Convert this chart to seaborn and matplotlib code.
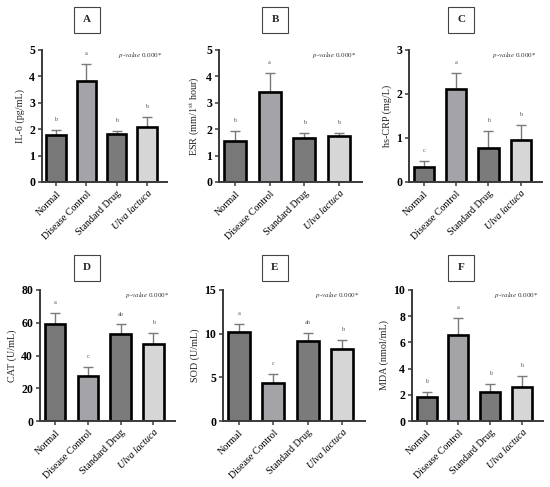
import matplotlib
matplotlib.use("Agg")
import matplotlib.pyplot as plt
import seaborn as sns
import pandas as pd
import numpy as np
from matplotlib.patches import Rectangle

categories = ["Normal", "Disease Control", "Standard Drug", "Ulva lactuca"]
colors = ["#787878", "#a3a3a9", "#7b7b7b", "#d6d6d6"]

il6_mean = [1.78, 3.82, 1.82, 2.07]
il6_err = [0.19, 0.66, 0.10, 0.38]
il6_letters = ["b", "a", "b", "b"]

esr_mean = [1.55, 3.42, 1.68, 1.75]
esr_err = [0.38, 0.70, 0.19, 0.12]
esr_letters = ["b", "a", "b", "b"]

crp_mean = [0.33, 2.12, 0.78, 0.95]
crp_err = [0.14, 0.36, 0.37, 0.35]
crp_letters = ["c", "a", "b", "b"]

cat_mean = [59.0, 27.5, 53.0, 47.0]
cat_err = [7.0, 5.5, 6.0, 7.0]
cat_letters = ["a", "c", "ab", "b"]

sod_mean = [10.2, 4.4, 9.2, 8.3]
sod_err = [0.9, 1.0, 0.85, 1.0]
sod_letters = ["a", "c", "ab", "b"]

mda_mean = [1.8, 6.6, 2.2, 2.6]
mda_err = [0.4, 1.3, 0.62, 0.85]
mda_letters = ["b", "a", "b", "b"]

panels = [
    ("A", "IL-6 (pg/mL)", il6_mean, il6_err, il6_letters, 5, 1),
    ("B", "ESR (mm/1$^{\\mathrm{st}}$ hour)", esr_mean, esr_err, esr_letters, 5, 1),
    ("C", "hs-CRP (mg/L)", crp_mean, crp_err, crp_letters, 3, 1),
    ("D", "CAT (U/mL)", cat_mean, cat_err, cat_letters, 80, 20),
    ("E", "SOD (U/mL)", sod_mean, sod_err, sod_letters, 15, 5),
    ("F", "MDA (nmol/mL)", mda_mean, mda_err, mda_letters, 10, 2),
]

W, H = 550, 487
# axes rectangles in pixels: (left, top, right, bottom)
rects = [
    (42, 50, 167, 182),
    (219, 50, 362, 182),
    (409, 50, 542, 182),
    (40, 290, 175, 421),
    (223, 290, 365, 421),
    (412, 290, 543, 421),
]
box_centers = [(87, 20), (275, 20), (461, 20), (87, 268), (275, 268), (461, 268)]

sns.set_theme(style="ticks")
plt.rcParams["font.family"] = ["Liberation Serif", "DejaVu Serif"]
plt.rcParams["mathtext.fontset"] = "stix"

fig = plt.figure(figsize=(W / 100, H / 100), dpi=100)
fig.patch.set_facecolor("white")

axis_col = "#3a3a3a"

for (label, ylab, means, errs, letters, ymax, ystep), (l, t, r, b), (bx, by) in zip(panels, rects, box_centers):
    ax = fig.add_axes([l / W, 1 - b / H, (r - l) / W, (b - t) / H])
    df = pd.DataFrame({"group": categories, "value": means})
    sns.barplot(data=df, x="group", y="value", hue="group", palette=colors,
                order=categories, hue_order=categories, legend=False,
                errorbar=None, width=0.63, edgecolor="black", linewidth=1.9,
                ax=ax, zorder=2)
    xs = np.arange(len(categories))
    ax.errorbar(xs, means, yerr=[np.zeros(len(errs)), errs], fmt="none",
                ecolor="#7a7a7a", elinewidth=1.0, capsize=3.5, capthick=1.0, zorder=1)
    for x, m, e, s in zip(xs, means, errs, letters):
        ax.text(x, m + e + ymax * 0.06, s, ha="center", va="bottom",
                fontsize=4.5, color="#555555")
    ax.set_xlim(-0.46, 3.66)
    ax.set_ylim(0, ymax)
    ticks = np.arange(0, ymax + ystep / 2, ystep)
    ax.set_yticks(ticks)
    ax.set_yticklabels([str(int(v)) for v in ticks], fontweight="bold", fontsize=8.5)
    ax.set_xticks(xs)
    ax.set_xticklabels(categories, rotation=45, ha="right", rotation_mode="anchor",
                       fontsize=7.2)
    ax.get_xticklabels()[3].set_style("italic")
    ax.set_xlabel("")
    ax.set_ylabel(ylab, fontsize=7.3, labelpad=3)
    sns.despine(ax=ax)
    for side in ["left", "bottom"]:
        ax.spines[side].set_color(axis_col)
        ax.spines[side].set_linewidth(1.4)
    ax.tick_params(axis="both", colors=axis_col, width=1.1, length=3, labelcolor="black", pad=2)
    ax.set_facecolor("white")
    ax.text(0.96, 1.0, "$\\it{p}$-$\\it{value}$ 0.000*", transform=ax.transAxes,
            ha="right", va="top", fontsize=5, color="#333333")
    # title box
    bw, bh = 26, 26
    fig.patches.append(Rectangle(((bx - bw / 2) / W, 1 - (by + bh / 2) / H), bw / W, bh / H,
                                 transform=fig.transFigure, fill=False,
                                 edgecolor="#444444", linewidth=0.8))
    fig.text(bx / W, 1 - by / H, label, ha="center", va="center",
             fontsize=8, fontweight="bold")

fig.savefig("out.png", dpi=100, facecolor="white")
